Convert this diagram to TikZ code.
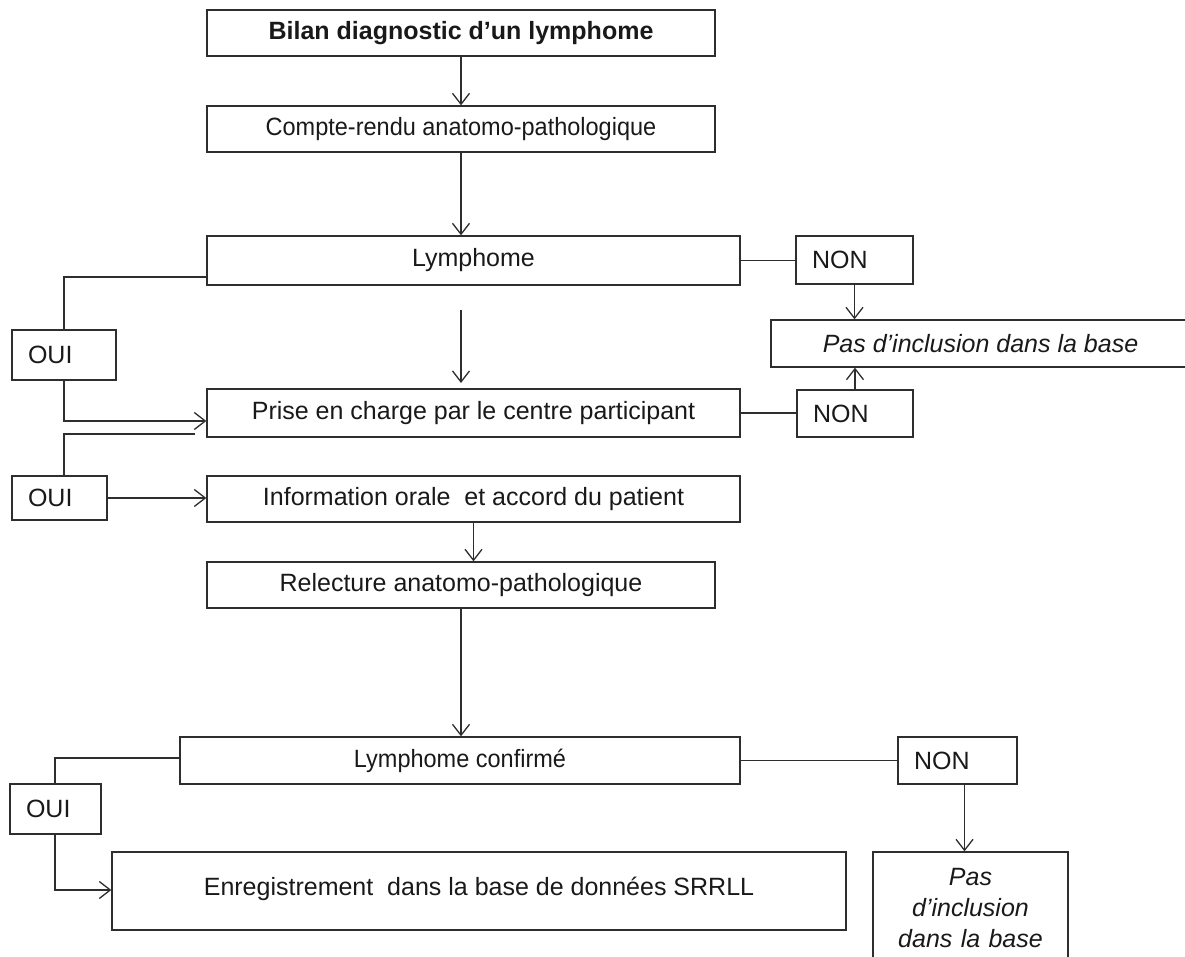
\documentclass[tikz,border=0pt]{standalone}
\usepackage{fontspec}
\setmainfont{Liberation Sans}
\usetikzlibrary{arrows.meta}
\definecolor{ink}{HTML}{2E2E2E}
\tikzset{
  box/.style={draw=ink, line width=1.3pt, inner sep=0pt, text=black!90,
    font=\fontsize{25}{31}\selectfont, align=center},
  narrow/.style={font=\fontsize{25}{31}\selectfont\addfontfeature{FakeStretch=#1}},
  tag/.style={box, align=left, inner xsep=16pt},
  link/.style={draw=ink, line width=1.3pt},
  arr/.style={link, -{Straight Barb[length=11pt,width=17pt,line width=1.3pt]}}
}
\begin{document}
\begin{tikzpicture}[x=1pt,y=-1pt]
\useasboundingbox (0,0) rectangle (1185,957);

% main column
\node[box, minimum width=508pt, minimum height=46pt, font=\fontsize{25}{31}\selectfont\bfseries]
  (bilan) at (461,33) {Bilan diagnostic d’un lymphome};
\node[box, narrow=0.94, minimum width=508pt, minimum height=46pt] (compte) at (461,129) {Compte-rendu anatomo-pathologique};
\node[box, minimum width=533pt, minimum height=49pt] (lymph) at (473.5,260.5) {Lymphome};
\node[box, minimum width=533pt, minimum height=48pt] (prise) at (473.5,413) {Prise en charge par le centre participant};
\node[box, minimum width=533pt, minimum height=46pt] (info) at (473.5,499) {Information orale~ et accord du patient};
\node[box, minimum width=508pt, minimum height=46pt] (relec) at (461,585) {Relecture anatomo-pathologique};
\node[box, narrow=0.94, minimum width=560pt, minimum height=47pt] (lc) at (460,760.5) {Lymphome confirmé};
\node[box, minimum width=734pt, minimum height=78pt] (enreg) at (479,891)
  {\raisebox{10pt}{Enregistrement~ dans la base de données SRRLL}};

% yes / no tags
\node[tag, text width=72pt, minimum height=50pt] (oui1) at (64,355) {OUI};
\node[tag, text width=63pt, minimum height=44pt] (oui2) at (59.5,498) {OUI};
\node[tag, text width=59pt, minimum height=50pt] (oui3) at (55.5,809) {OUI};
\node[tag, text width=85pt, minimum height=48pt] (non1) at (854.5,260) {NON};
\node[tag, text width=84pt, minimum height=47pt] (non2) at (855,413.5) {NON};
\node[tag, text width=87pt, minimum height=47pt] (non3) at (957.5,760.5) {NON};

% exclusion boxes
\node[box, minimum width=419pt, minimum height=47pt, font=\fontsize{25}{31}\selectfont\itshape]
  (pas1) at (980.5,343.5) {Pas d’inclusion dans la base};
\node[box, text width=195pt, minimum height=112pt, font=\fontsize{25}{31}\selectfont\itshape]
  (pas2) at (970.5,908) {Pas\\d’inclusion\\dans la base};

% routing points
\coordinate (a1) at (461,310);
\coordinate (a2) at (461,383);
\coordinate (c1) at (64,277);
\coordinate (c2) at (64,421);
\coordinate (c3s) at (195,434);
\coordinate (c3) at (64,434);
\coordinate (c4) at (55,758);
\coordinate (c5) at (55,890);

% vertical flow
\draw[arr] (bilan.south) -- (compte.north);
\draw[arr] (compte.south) -- (compte.south |- lymph.north);
\draw[arr] (a1) -- (a2);
\draw[arr] (info.south) -- (info.south |- relec.north);
\draw[arr] (relec.south) -- (relec.south |- lc.north);

% OUI branches
\draw[link] (lymph.west |- c1) -- (c1) -- (c1 |- oui1.north);
\draw[arr] (c1 |- oui1.south) -- (c2) -- (prise.west |- c2);
\draw[link] (c3s) -- (c3) -- (c3 |- oui2.north);
\draw[arr] (oui2.east) -- (info.west |- oui2.east);
\draw[link] (lc.west |- c4) -- (c4) -- (c4 |- oui3.north);
\draw[arr] (c4 |- oui3.south) -- (c5) -- (enreg.west |- c5);

% NON branches
\draw[link] (lymph.east) -- (non1.west |- lymph.east);
\draw[arr] (non1.south) -- (non1.south |- pas1.north);
\draw[link] (prise.east) -- (non2.west |- prise.east);
\draw[arr] (non2.north) -- (non2.north |- pas1.south);
\draw[link] (lc.east) -- (non3.west |- lc.east);
\draw[arr] ([xshift=7pt]non3.south) -- ([xshift=7pt]non3.south |- pas2.north);
\end{tikzpicture}
\end{document}
